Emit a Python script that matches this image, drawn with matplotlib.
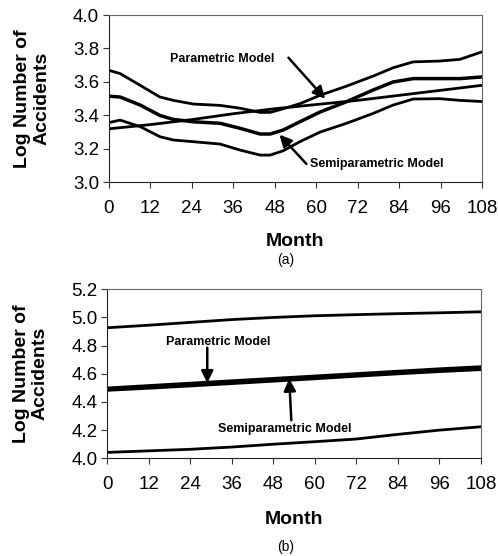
import matplotlib.pyplot as plt

plt.rcParams['font.family'] = ['Liberation Sans', 'DejaVu Sans']

# ---- panel (a) data ----
month_a = [0, 3.3, 9.1, 14.8, 18.7, 24.5, 32.2, 38, 43.8, 46.7, 50.5, 55.3, 61.1, 68.8, 76.5,
           82.3, 88.1, 95.8, 101.6, 108]
upper_a = [3.67, 3.65, 3.58, 3.51, 3.49, 3.468, 3.46, 3.443, 3.418, 3.418, 3.44, 3.47, 3.52,
           3.575, 3.635, 3.685, 3.72, 3.725, 3.735, 3.78]
semi_a = [3.515, 3.51, 3.462, 3.40, 3.376, 3.362, 3.353, 3.323, 3.289, 3.289, 3.313, 3.362,
          3.42, 3.482, 3.552, 3.60, 3.62, 3.62, 3.62, 3.63]
lower_a = [3.357, 3.372, 3.333, 3.273, 3.253, 3.243, 3.229, 3.193, 3.163, 3.163, 3.189, 3.243,
           3.30, 3.353, 3.412, 3.462, 3.498, 3.50, 3.49, 3.483]
month_p = [0, 12, 24, 36, 48, 60, 72, 84, 96, 108]
param_a = [3.32, 3.345, 3.375, 3.41, 3.44, 3.465, 3.49, 3.52, 3.55, 3.58]

# ---- panel (b) data ----
month_b = [0, 12, 24, 36, 48, 60, 72, 84, 96, 108]
upper_b = [4.927, 4.945, 4.965, 4.985, 5.0, 5.012, 5.02, 5.027, 5.033, 5.04]
semi_b = [4.485, 4.50, 4.516, 4.533, 4.55, 4.567, 4.585, 4.602, 4.618, 4.632]
param_b = [4.497, 4.514, 4.531, 4.548, 4.565, 4.582, 4.599, 4.616, 4.633, 4.648]
lower_b = [4.042, 4.053, 4.064, 4.08, 4.10, 4.118, 4.137, 4.17, 4.20, 4.224]

xticks = [0, 12, 24, 36, 48, 60, 72, 84, 96, 108]

fig = plt.figure(figsize=(4.98, 5.56), dpi=100)
ax1 = fig.add_axes([0.2183, 0.672, 0.7496, 0.301])
ax2 = fig.add_axes([0.2155, 0.1757, 0.750, 0.304])


def style(ax, ylim, yticks, xlab_y):
    ax.set_xlim(0, 108)
    ax.set_ylim(*ylim)
    ax.set_xticks(xticks)
    ax.set_yticks(yticks)
    ax.set_yticklabels([f"{v:.1f}" for v in yticks])
    ax.tick_params(labelsize=13.5, length=4, width=0.8, color='#333333')
    ax.tick_params(axis='x', pad=9)
    ax.tick_params(axis='y', pad=3)
    for s in ax.spines.values():
        s.set_linewidth(0.8)
        s.set_color('#666666')
    ax.spines['left'].set_color('#222222')
    ax.spines['bottom'].set_color('#222222')
    ax.set_xlabel("Month", fontsize=14, fontweight='bold')
    ax.xaxis.set_label_coords(0.5, xlab_y)
    ax.set_ylabel("Log Number of\nAccidents", fontsize=14, fontweight='bold',
                  linespacing=1.15)
    ax.yaxis.set_label_coords(-0.157, 0.5)


lw = 2.0
# ========== (a) ==========
ax1.plot(month_a, upper_a, color='black', lw=lw)
ax1.plot(month_a, semi_a, color='black', lw=lw + 0.5)
ax1.plot(month_a, lower_a, color='black', lw=lw)
ax1.plot(month_p, param_a, color='black', lw=lw)
style(ax1, (3.0, 4.0), [3.0, 3.2, 3.4, 3.6, 3.8, 4.0], -0.30)

arrow = dict(arrowstyle='-|>', color='black', lw=1.8, mutation_scale=18, shrinkA=0, shrinkB=0)
ax1.annotate("", xy=(62.6, 3.50), xytext=(52, 3.745), arrowprops=arrow)
ax1.text(32.8, 3.735, "Parametric Model", fontsize=9, fontweight='bold', ha='center', va='center')
ax1.annotate("", xy=(49.4, 3.285), xytext=(57.2, 3.11), arrowprops=arrow)
ax1.text(58.3, 3.108, "Semiparametric Model", fontsize=9, fontweight='bold', ha='left', va='center')
fig.text(0.573, 0.532, "(a)", ha='center', va='center', fontsize=10)

# ========== (b) ==========
ax2.plot(month_b, upper_b, color='black', lw=lw)
ax2.plot(month_b, semi_b, color='black', lw=lw + 0.5)
ax2.plot(month_b, param_b, color='black', lw=lw + 0.5)
ax2.plot(month_b, lower_b, color='black', lw=lw)
style(ax2, (4.0, 5.2), [4.0, 4.2, 4.4, 4.6, 4.8, 5.0, 5.2], -0.31)

ax2.annotate("", xy=(28.9, 4.535), xytext=(28.9, 4.785), arrowprops=arrow)
ax2.text(32, 4.828, "Parametric Model", fontsize=9, fontweight='bold', ha='center', va='center')
ax2.annotate("", xy=(52.6, 4.565), xytext=(53.2, 4.27), arrowprops=arrow)
ax2.text(51.3, 4.206, "Semiparametric Model", fontsize=9, fontweight='bold', ha='center', va='center')
fig.text(0.573, 0.016, "(b)", ha='center', va='center', fontsize=10)

fig.savefig("out.png", dpi=100)
